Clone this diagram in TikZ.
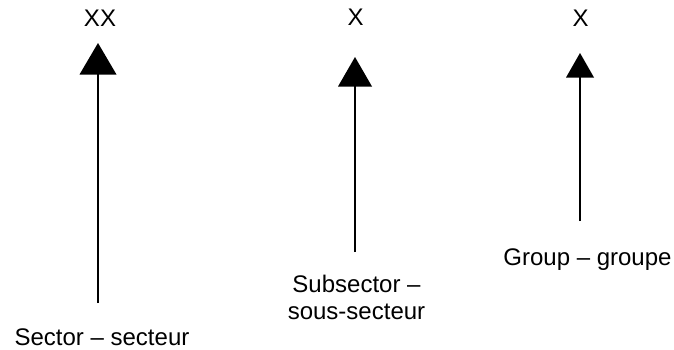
\documentclass[tikz,border=0pt]{standalone}
\usepackage{fontspec}
\setmainfont{Liberation Sans}
\begin{document}
\begin{tikzpicture}[x=1pt,y=-1pt,
  lbl/.style={inner sep=0pt,anchor=base,font=\fontsize{24}{27}\selectfont,align=center},
  stem/.style={line width=2.5pt},
  head/.style={fill=black}]
\useasboundingbox (0,0) rectangle (674,349);
% top labels
\node[lbl] (xx) at (100,26) {XX};
\node[lbl] (x2) at (355.5,25.5) {X};
\node[lbl] (x3) at (580.5,26) {X};
% bottom labels
\node[lbl] (sector) at (102,345.5) {Sector – secteur};
\node[lbl] (sub) at (356.5,319) {Subsector –\\sous-secteur};
\node[lbl] (group) at (587.5,265) {Group – groupe};
% stems bottoms and arrow heads
\coordinate (b1) at (98,303);
\coordinate (h1) at (98,74);
\coordinate (b2) at (355,252);
\coordinate (h2) at (355,86);
\coordinate (b3) at (580,221);
\coordinate (h3) at (580,77);
\draw[stem] (b1) -- (h1);
\draw[stem] (b2) -- (h2);
\draw[stem] (b3) -- (h3);
\fill[head] (98,43) -- (116.5,74.5) -- (79.5,74.5) -- cycle;
\fill[head] (355,57) -- (372,86.5) -- (338,86.5) -- cycle;
\fill[head] (580,53) -- (594,77.5) -- (566,77.5) -- cycle;
\end{tikzpicture}
\end{document}
